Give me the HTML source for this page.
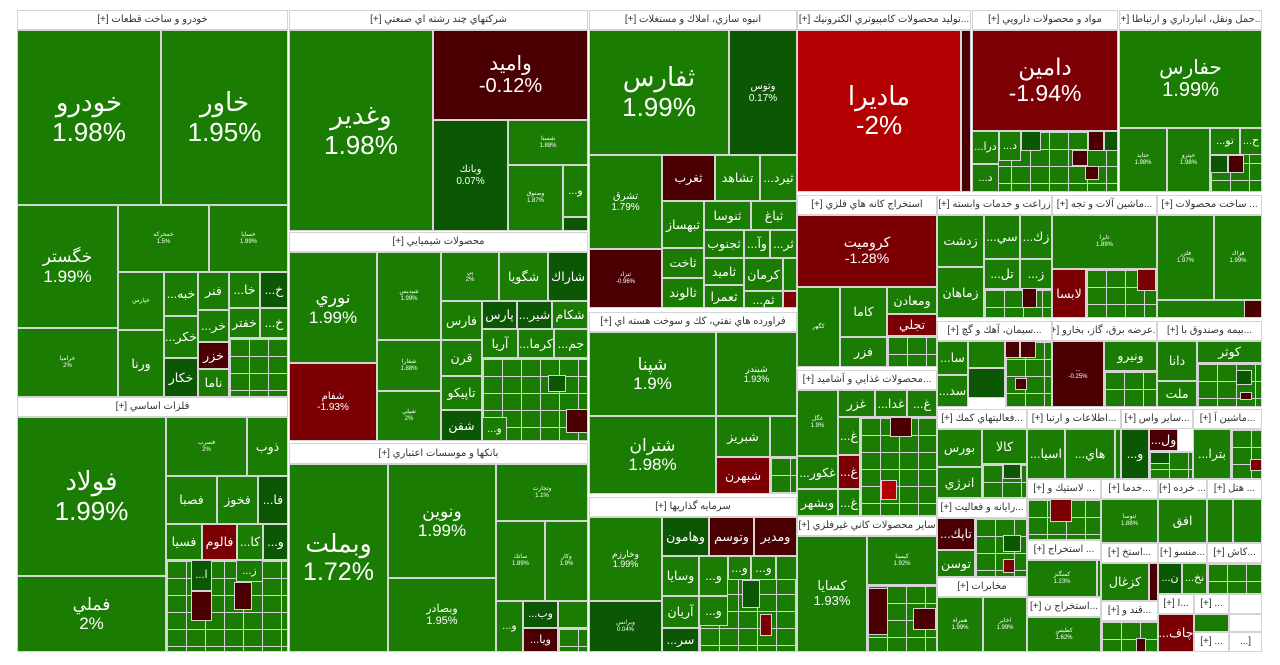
<!DOCTYPE html>
<html><head><meta charset="utf-8"><style>
html,body{margin:0;padding:0;background:#fff;width:1280px;height:665px;overflow:hidden}
.w{position:relative;width:1280px;height:665px}
.c,.h{position:absolute;box-sizing:border-box;border:1px solid #d4d4d4;overflow:hidden;display:flex;flex-direction:column;align-items:center;justify-content:center;text-align:center;line-height:1.12;font-family:"Liberation Sans","DejaVu Sans",sans-serif}
.c{color:#fff;background:#1a7c02;font-size:11px;direction:ltr}
.h{background:#fff;color:#333;font-size:10px;white-space:nowrap;direction:rtl}
.d{background:#0c5703}.r{background:#4a0003}.m{background:#7a0004}.b{background:#b30003}
.gr{background-color:#1a7c02;background-image:linear-gradient(90deg,#d4d4d4 1px,transparent 1px),linear-gradient(#d4d4d4 1px,transparent 1px);background-size:19px 17px}
.B{font-size:26px}.M{font-size:17px}.S{font-size:12.5px}.T{font-size:6px}
</style></head><body><div class="w">
<!-- headers -->
<div class="h" style="left:17px;top:10px;width:271px;height:20px">خودرو و ساخت قطعات [+]</div>
<div class="h" style="left:289px;top:10px;width:299px;height:20px">شركتهاي چند رشته اي صنعتي [+]</div>
<div class="h" style="left:589px;top:10px;width:208px;height:20px">انبوه سازي، املاك و مستغلات [+]</div>
<div class="h" style="left:797px;top:10px;width:174px;height:20px">...توليد محصولات كامپيوتري الكترونيك [+]</div>
<div class="h" style="left:972px;top:10px;width:146px;height:20px">مواد و محصولات دارويي [+]</div>
<div class="h" style="left:1119px;top:10px;width:143px;height:20px">...حمل ونقل، انبارداري و ارتباطا [+]</div>
<div class="h" style="left:17px;top:397px;width:271px;height:20px">فلزات اساسي [+]</div>
<div class="h" style="left:289px;top:232px;width:299px;height:20px">محصولات شيميايي [+]</div>
<div class="h" style="left:289px;top:443px;width:299px;height:21px">بانكها و موسسات اعتباري [+]</div>
<div class="h" style="left:589px;top:312px;width:208px;height:20px">فراورده هاي نفتي، كك و سوخت هسته اي [+]</div>
<div class="h" style="left:589px;top:497px;width:208px;height:20px">سرمايه گذاريها [+]</div>
<div class="h" style="left:797px;top:195px;width:140px;height:20px">استخراج كانه هاي فلزي [+]</div>
<div class="h" style="left:797px;top:370px;width:140px;height:20px">...محصولات غذايي و آشاميد [+]</div>
<div class="h" style="left:797px;top:516px;width:140px;height:20px">ساير محصولات كاني غيرفلزي [+]</div>
<div class="h" style="left:937px;top:195px;width:115px;height:20px">زراعت و خدمات وابسته [+]</div>
<div class="h" style="left:1052px;top:195px;width:105px;height:20px">...ماشين آلات و تجه [+]</div>
<div class="h" style="left:1157px;top:195px;width:105px;height:20px">... ساخت محصولات [+]</div>
<div class="h" style="left:937px;top:321px;width:115px;height:20px">...سيمان، آهك و گچ [+]</div>
<div class="h" style="left:1052px;top:321px;width:105px;height:20px">...عرضه برق، گاز، بخارو [+]</div>
<div class="h" style="left:1157px;top:321px;width:105px;height:20px">...بيمه وصندوق با [+]</div>
<div class="h" style="left:937px;top:409px;width:90px;height:20px">...فعاليتهاي كمك [+]</div>
<div class="h" style="left:1027px;top:409px;width:94px;height:20px">...اطلاعات و ارتبا [+]</div>
<div class="h" style="left:1121px;top:409px;width:72px;height:20px">...ساير واس [+]</div>
<div class="h" style="left:1193px;top:409px;width:69px;height:20px">...ماشين آ [+]</div>
<div class="h" style="left:1027px;top:479px;width:74px;height:20px">... لاستيك و [+]</div>
<div class="h" style="left:1101px;top:479px;width:57px;height:20px">...خدما [+]</div>
<div class="h" style="left:1158px;top:479px;width:49px;height:20px">... خرده [+]</div>
<div class="h" style="left:1207px;top:479px;width:55px;height:20px">... هتل [+]</div>
<div class="h" style="left:937px;top:498px;width:90px;height:20px">...رايانه و فعاليت [+]</div>
<div class="h" style="left:937px;top:577px;width:90px;height:20px">مخابرات [+]</div>
<div class="h" style="left:1027px;top:540px;width:74px;height:20px">... استخراج [+]</div>
<div class="h" style="left:1101px;top:543px;width:57px;height:20px">...استخ [+]</div>
<div class="h" style="left:1158px;top:543px;width:49px;height:20px">...منسو [+]</div>
<div class="h" style="left:1207px;top:543px;width:55px;height:20px">...كاش [+]</div>
<div class="h" style="left:1027px;top:597px;width:74px;height:20px">...استخراج ن [+]</div>
<div class="h" style="left:1101px;top:601px;width:57px;height:20px">...قند و [+]</div>
<div class="h" style="left:1158px;top:594px;width:36px;height:20px">...ا [+]</div>
<div class="h" style="left:1194px;top:594px;width:35px;height:20px">... [+]</div>
<div class="h" style="left:1229px;top:594px;width:33px;height:20px"></div>
<div class="h" style="left:1194px;top:632px;width:35px;height:20px">... [+]</div>
<div class="h" style="left:1229px;top:614px;width:33px;height:18px"></div>
<div class="h" style="left:1229px;top:632px;width:33px;height:20px">[...</div>

<!-- sector 1 -->
<div class="c B" style="left:17px;top:30px;width:144px;height:175px">خودرو<br>1.98%</div>
<div class="c B" style="left:161px;top:30px;width:127px;height:175px">خاور<br>1.95%</div>
<div class="c M" style="left:17px;top:205px;width:101px;height:123px">خگستر<br>1.99%</div>
<div class="c T" style="left:17px;top:328px;width:101px;height:69px">خراميا<br>2%</div>
<div class="c T" style="left:118px;top:205px;width:91px;height:67px">خمحركه<br>1.5%</div>
<div class="c T" style="left:209px;top:205px;width:79px;height:67px">خساپا<br>1.99%</div>
<div class="c T" style="left:118px;top:272px;width:46px;height:58px">خپارس</div>
<div class="c S" style="left:118px;top:330px;width:46px;height:67px">ورنا</div>
<div class="c S" style="left:164px;top:272px;width:34px;height:44px">...خبه</div>
<div class="c S" style="left:198px;top:272px;width:31px;height:38px">فنر</div>
<div class="c S" style="left:229px;top:272px;width:31px;height:36px">...خا</div>
<div class="c S d" style="left:260px;top:272px;width:28px;height:36px">...خ</div>
<div class="c S" style="left:164px;top:316px;width:34px;height:42px">...خكر</div>
<div class="c S d" style="left:164px;top:358px;width:34px;height:39px">خكار</div>
<div class="c S" style="left:198px;top:310px;width:31px;height:32px">...خر</div>
<div class="c S r" style="left:198px;top:342px;width:31px;height:27px">خزر</div>
<div class="c S" style="left:198px;top:369px;width:31px;height:28px">ناما</div>
<div class="c S" style="left:229px;top:308px;width:31px;height:30px">خفتر</div>
<div class="c S" style="left:260px;top:308px;width:28px;height:30px">...خ</div>
<div class="c gr" style="left:229px;top:338px;width:59px;height:59px"></div>
<div class="c B" style="left:17px;top:417px;width:149px;height:159px">فولاد<br>1.99%</div>
<div class="c M" style="left:17px;top:576px;width:149px;height:76px">فملي<br>2%</div>
<div class="c T" style="left:166px;top:417px;width:81px;height:59px">فسرب<br>2%</div>
<div class="c S" style="left:247px;top:417px;width:41px;height:59px">ذوب</div>
<div class="c S" style="left:166px;top:476px;width:51px;height:48px">فصبا</div>
<div class="c S" style="left:217px;top:476px;width:41px;height:48px">فخوز</div>
<div class="c S d" style="left:258px;top:476px;width:30px;height:48px">...فا</div>
<div class="c S" style="left:166px;top:524px;width:36px;height:36px">فسيا</div>
<div class="c S m" style="left:202px;top:524px;width:35px;height:36px">فالوم</div>
<div class="c S" style="left:237px;top:524px;width:26px;height:36px">...كا</div>
<div class="c S d" style="left:263px;top:524px;width:25px;height:36px">...و</div>
<div class="c gr" style="left:166px;top:560px;width:122px;height:92px"></div>
<div class="c d" style="left:191px;top:560px;width:21px;height:31px">...ا</div>
<div class="c r" style="left:191px;top:591px;width:21px;height:30px"></div>
<div class="c r" style="left:234px;top:582px;width:18px;height:28px"></div>
<div class="c" style="left:236px;top:560px;width:27px;height:22px">...ز</div>

<!-- sector 2 -->
<div class="c B" style="left:289px;top:30px;width:144px;height:201px">وغدير<br>1.98%</div>
<div class="c r" style="left:433px;top:30px;width:155px;height:90px;font-size:20px">واميد<br>-0.12%</div>
<div class="c d" style="left:433px;top:120px;width:75px;height:111px;font-size:10px">وبانك<br>0.07%</div>
<div class="c T" style="left:508px;top:120px;width:80px;height:45px">شستا<br>1.88%</div>
<div class="c T" style="left:508px;top:165px;width:55px;height:66px">وصنوق<br>1.87%</div>
<div class="c" style="left:563px;top:165px;width:25px;height:52px">...و</div>
<div class="c d" style="left:563px;top:217px;width:25px;height:14px"></div>
<div class="c M" style="left:289px;top:252px;width:88px;height:111px">نوري<br>1.99%</div>
<div class="c m" style="left:289px;top:363px;width:88px;height:78px;font-size:10px">شفام<br>-1.93%</div>
<div class="c T" style="left:377px;top:252px;width:64px;height:88px">شپديس<br>1.99%</div>
<div class="c T" style="left:377px;top:340px;width:64px;height:51px">شفارا<br>1.88%</div>
<div class="c T" style="left:377px;top:391px;width:64px;height:50px">شپلي<br>2%</div>
<div class="c T" style="left:441px;top:252px;width:58px;height:49px">پي<br>2%</div>
<div class="c S" style="left:499px;top:252px;width:49px;height:49px">شگويا</div>
<div class="c S d" style="left:548px;top:252px;width:40px;height:49px">شاراك</div>
<div class="c S" style="left:441px;top:301px;width:41px;height:39px">فارس</div>
<div class="c S d" style="left:482px;top:301px;width:35px;height:28px">پارس</div>
<div class="c S d" style="left:517px;top:301px;width:35px;height:28px">...شير</div>
<div class="c S" style="left:552px;top:301px;width:36px;height:28px">شكام</div>
<div class="c S" style="left:441px;top:340px;width:41px;height:36px">قرن</div>
<div class="c S" style="left:441px;top:376px;width:41px;height:34px">تاپيكو</div>
<div class="c S d" style="left:441px;top:410px;width:41px;height:31px">شفن</div>
<div class="c S" style="left:482px;top:329px;width:36px;height:29px">آريا</div>
<div class="c S" style="left:518px;top:329px;width:36px;height:29px">...كرما</div>
<div class="c S" style="left:554px;top:329px;width:34px;height:29px">...جم</div>
<div class="c gr" style="left:482px;top:358px;width:106px;height:83px"></div>
<div class="c" style="left:482px;top:417px;width:25px;height:24px">...و</div>
<div class="c d" style="left:548px;top:375px;width:18px;height:17px"></div>
<div class="c r" style="left:566px;top:409px;width:22px;height:24px"></div>
<div class="c B" style="left:289px;top:464px;width:99px;height:188px;font-size:25px">وبملت<br>1.72%</div>
<div class="c M" style="left:388px;top:464px;width:108px;height:114px">ونوين<br>1.99%</div>
<div class="c" style="left:388px;top:578px;width:108px;height:74px">وبصادر<br>1.95%</div>
<div class="c T" style="left:496px;top:464px;width:92px;height:57px">وتجارت<br>1.1%</div>
<div class="c T" style="left:496px;top:521px;width:49px;height:80px">ساتك<br>1.89%</div>
<div class="c T" style="left:545px;top:521px;width:43px;height:80px">وكار<br>1.9%</div>
<div class="c" style="left:496px;top:601px;width:27px;height:51px">...و</div>
<div class="c d" style="left:523px;top:601px;width:35px;height:27px">...وب</div>
<div class="c" style="left:558px;top:601px;width:30px;height:27px"></div>
<div class="c r" style="left:523px;top:628px;width:35px;height:24px">...ويا</div>
<div class="c gr" style="left:558px;top:628px;width:30px;height:24px"></div>

<!-- sector 3 -->
<div class="c B" style="left:589px;top:30px;width:140px;height:125px">ثفارس<br>1.99%</div>
<div class="c d" style="left:729px;top:30px;width:68px;height:125px;font-size:10px">وتوس<br>0.17%</div>
<div class="c" style="left:589px;top:155px;width:73px;height:94px;font-size:10px">تشرق<br>1.79%</div>
<div class="c T r" style="left:589px;top:249px;width:73px;height:59px">ثنراد<br>-0.96%</div>
<div class="c S r" style="left:662px;top:155px;width:53px;height:46px">ثغرب</div>
<div class="c S" style="left:715px;top:155px;width:45px;height:46px">تشاهد</div>
<div class="c S" style="left:760px;top:155px;width:37px;height:46px">...ثيرد</div>
<div class="c S" style="left:662px;top:201px;width:42px;height:47px">ثبهساز</div>
<div class="c S" style="left:704px;top:201px;width:47px;height:29px">ثنوسا</div>
<div class="c S" style="left:751px;top:201px;width:46px;height:29px">ثباغ</div>
<div class="c S" style="left:662px;top:248px;width:42px;height:30px">ثاخت</div>
<div class="c S" style="left:704px;top:230px;width:40px;height:28px">ثجنوب</div>
<div class="c S" style="left:744px;top:230px;width:26px;height:28px">...وآ</div>
<div class="c S" style="left:770px;top:230px;width:27px;height:28px">...ثر</div>
<div class="c S" style="left:704px;top:258px;width:40px;height:27px">ثاميد</div>
<div class="c S" style="left:744px;top:258px;width:39px;height:33px">كرمان</div>
<div class="c" style="left:783px;top:258px;width:14px;height:33px"></div>
<div class="c S" style="left:662px;top:278px;width:42px;height:30px">ثالوند</div>
<div class="c S" style="left:704px;top:285px;width:40px;height:23px">ثعمرا</div>
<div class="c S" style="left:744px;top:291px;width:39px;height:17px">...ثم</div>
<div class="c m" style="left:783px;top:291px;width:14px;height:17px"></div>
<div class="c M" style="left:589px;top:332px;width:127px;height:84px">شپنا<br>1.9%</div>
<div class="c" style="left:716px;top:332px;width:81px;height:84px;font-size:9px">شبندر<br>1.93%</div>
<div class="c M" style="left:589px;top:416px;width:127px;height:78px">شتران<br>1.98%</div>
<div class="c S" style="left:716px;top:416px;width:54px;height:41px">شبريز</div>
<div class="c" style="left:770px;top:416px;width:27px;height:41px"></div>
<div class="c S m" style="left:716px;top:457px;width:54px;height:37px">شبهرن</div>
<div class="c gr" style="left:770px;top:457px;width:27px;height:37px"></div>
<div class="c" style="left:589px;top:517px;width:73px;height:84px;font-size:9px">وخارزم<br>1.99%</div>
<div class="c T d" style="left:589px;top:601px;width:73px;height:51px">وبرانس<br>0.04%</div>
<div class="c S d" style="left:662px;top:517px;width:47px;height:39px">وهامون</div>
<div class="c S r" style="left:709px;top:517px;width:45px;height:39px">وتوسم</div>
<div class="c S r" style="left:754px;top:517px;width:43px;height:39px">ومدير</div>
<div class="c gr" style="left:699px;top:576px;width:98px;height:76px"></div>
<div class="c S" style="left:662px;top:556px;width:37px;height:40px">وسايا</div>
<div class="c S" style="left:699px;top:556px;width:29px;height:40px">...و</div>
<div class="c S" style="left:728px;top:556px;width:23px;height:24px">...و</div>
<div class="c S" style="left:751px;top:556px;width:25px;height:24px">...و</div>
<div class="c" style="left:776px;top:556px;width:21px;height:24px"></div>
<div class="c S" style="left:662px;top:596px;width:37px;height:32px">آريان</div>
<div class="c S d" style="left:662px;top:628px;width:37px;height:24px">...سر</div>
<div class="c S" style="left:699px;top:596px;width:29px;height:30px">...و</div>
<div class="c d" style="left:742px;top:580px;width:18px;height:28px"></div>
<div class="c m" style="left:760px;top:614px;width:12px;height:22px"></div>

<!-- sector 4 -->
<div class="c B b" style="left:797px;top:30px;width:164px;height:162px">ماديرا<br>-2%</div>
<div class="c r" style="left:961px;top:30px;width:10px;height:162px"></div>
<div class="c m" style="left:797px;top:215px;width:140px;height:72px;font-size:14px">كروميت<br>-1.28%</div>
<div class="c T" style="left:797px;top:287px;width:43px;height:80px">كگهر</div>
<div class="c S" style="left:840px;top:287px;width:47px;height:50px">كاما</div>
<div class="c S" style="left:887px;top:287px;width:50px;height:27px">ومعادن</div>
<div class="c S m" style="left:887px;top:314px;width:50px;height:22px">تجلي</div>
<div class="c S" style="left:840px;top:337px;width:47px;height:30px">فزر</div>
<div class="c gr" style="left:887px;top:336px;width:50px;height:31px"></div>
<div class="c T" style="left:797px;top:390px;width:41px;height:66px">غگل<br>1.9%</div>
<div class="c S" style="left:838px;top:390px;width:37px;height:27px">غزر</div>
<div class="c S" style="left:875px;top:390px;width:32px;height:27px">...غدا</div>
<div class="c S" style="left:907px;top:390px;width:30px;height:27px">...غ</div>
<div class="c gr" style="left:860px;top:417px;width:77px;height:99px"></div>
<div class="c S" style="left:838px;top:417px;width:22px;height:38px">...غ</div>
<div class="c r" style="left:890px;top:417px;width:22px;height:20px"></div>
<div class="c b" style="left:881px;top:480px;width:16px;height:20px"></div>
<div class="c S" style="left:797px;top:456px;width:41px;height:33px">...غكور</div>
<div class="c S m" style="left:838px;top:455px;width:22px;height:34px">...غ</div>
<div class="c S" style="left:797px;top:489px;width:41px;height:27px">وبشهر</div>
<div class="c S" style="left:838px;top:489px;width:22px;height:27px">...غ</div>
<div class="c" style="left:797px;top:536px;width:70px;height:116px;font-size:13px">كسايا<br>1.93%</div>
<div class="c T" style="left:867px;top:536px;width:70px;height:49px">كيمينا<br>1.92%</div>
<div class="c gr" style="left:867px;top:585px;width:70px;height:67px"></div>
<div class="c r" style="left:868px;top:588px;width:20px;height:47px"></div>
<div class="c r" style="left:913px;top:608px;width:23px;height:22px"></div>

<!-- sector 5 -->
<div class="c B m" style="left:972px;top:30px;width:146px;height:101px;font-size:23px;background:#7d0006">دامين<br>-1.94%</div>
<div class="c gr" style="left:972px;top:131px;width:146px;height:61px"></div>
<div class="c" style="left:972px;top:131px;width:27px;height:33px">...درا</div>
<div class="c" style="left:972px;top:164px;width:27px;height:28px">...د</div>
<div class="c" style="left:999px;top:131px;width:22px;height:30px">...د</div>
<div class="c d" style="left:1021px;top:131px;width:20px;height:20px"></div>
<div class="c r" style="left:1088px;top:131px;width:16px;height:20px"></div>
<div class="c d" style="left:1104px;top:131px;width:14px;height:20px"></div>
<div class="c r" style="left:1072px;top:150px;width:16px;height:16px"></div>
<div class="c r" style="left:1085px;top:166px;width:14px;height:14px"></div>
<div class="c S" style="left:937px;top:215px;width:47px;height:52px">زدشت</div>
<div class="c S" style="left:984px;top:215px;width:36px;height:44px">...سي</div>
<div class="c S" style="left:1020px;top:215px;width:32px;height:44px">...زك</div>
<div class="c S" style="left:937px;top:267px;width:47px;height:51px">زماهان</div>
<div class="c S" style="left:984px;top:259px;width:36px;height:30px">...تل</div>
<div class="c S" style="left:1020px;top:259px;width:32px;height:30px">...ز</div>
<div class="c gr" style="left:984px;top:289px;width:68px;height:29px"></div>
<div class="c r" style="left:1022px;top:288px;width:15px;height:20px"></div>
<div class="c T" style="left:1052px;top:215px;width:105px;height:54px">تايرا<br>1.89%</div>
<div class="c S m" style="left:1052px;top:269px;width:34px;height:49px">لابسا</div>
<div class="c gr" style="left:1086px;top:269px;width:71px;height:49px"></div>
<div class="c m" style="left:1137px;top:269px;width:19px;height:22px"></div>
<div class="c T" style="left:1157px;top:215px;width:57px;height:85px">فلزر<br>1.97%</div>
<div class="c T" style="left:1214px;top:215px;width:48px;height:85px">فزاك<br>1.99%</div>
<div class="c" style="left:1157px;top:300px;width:105px;height:18px"></div>
<div class="c r" style="left:1244px;top:300px;width:18px;height:18px"></div>
<div class="c" style="left:1119px;top:30px;width:143px;height:98px;font-size:20px">حفارس<br>1.99%</div>
<div class="c T" style="left:1119px;top:128px;width:48px;height:64px">حتايد<br>1.98%</div>
<div class="c T" style="left:1167px;top:128px;width:43px;height:64px">حپترو<br>1.98%</div>
<div class="c gr" style="left:1210px;top:128px;width:52px;height:64px"></div>
<div class="c" style="left:1210px;top:128px;width:30px;height:27px">...تو</div>
<div class="c" style="left:1240px;top:128px;width:22px;height:27px">...ح</div>
<div class="c d" style="left:1210px;top:155px;width:18px;height:18px"></div>
<div class="c r" style="left:1228px;top:155px;width:16px;height:18px"></div>

<!-- row 4 -->
<div class="c S" style="left:937px;top:341px;width:31px;height:34px">...سا</div>
<div class="c" style="left:968px;top:341px;width:37px;height:27px"></div>
<div class="c d" style="left:968px;top:368px;width:37px;height:30px"></div>
<div class="c S" style="left:937px;top:375px;width:31px;height:32px">...سد</div>
<div class="c gr" style="left:1005px;top:341px;width:47px;height:66px"></div>
<div class="c r" style="left:1005px;top:341px;width:15px;height:17px"></div>
<div class="c r" style="left:1020px;top:341px;width:16px;height:17px"></div>
<div class="c r" style="left:1015px;top:378px;width:12px;height:12px"></div>
<div class="c T r" style="left:1052px;top:341px;width:52px;height:66px">...<br>-0.25%</div>
<div class="c S" style="left:1104px;top:341px;width:53px;height:30px">ونيرو</div>
<div class="c gr" style="left:1104px;top:371px;width:53px;height:36px"></div>
<div class="c S" style="left:1157px;top:341px;width:40px;height:40px">دانا</div>
<div class="c S" style="left:1197px;top:341px;width:65px;height:22px">كوثر</div>
<div class="c S" style="left:1157px;top:381px;width:40px;height:26px">ملت</div>
<div class="c gr" style="left:1197px;top:363px;width:65px;height:44px"></div>
<div class="c d" style="left:1236px;top:370px;width:16px;height:15px"></div>
<div class="c r" style="left:1240px;top:392px;width:12px;height:8px"></div>

<!-- row 5 -->
<div class="c S" style="left:937px;top:429px;width:45px;height:38px">بورس</div>
<div class="c S" style="left:982px;top:429px;width:45px;height:35px">كالا</div>
<div class="c S" style="left:937px;top:467px;width:45px;height:31px">انرژي</div>
<div class="c gr" style="left:982px;top:464px;width:45px;height:34px"></div>
<div class="c d" style="left:1003px;top:464px;width:18px;height:15px"></div>
<div class="c S" style="left:1027px;top:429px;width:38px;height:50px">...اسيا</div>
<div class="c S" style="left:1065px;top:429px;width:50px;height:50px">...هاي</div>
<div class="c" style="left:1115px;top:429px;width:6px;height:50px"></div>
<div class="c S d" style="left:1121px;top:429px;width:28px;height:50px">...و</div>
<div class="c S r" style="left:1149px;top:429px;width:29px;height:22px">...ول</div>
<div class="c gr" style="left:1149px;top:451px;width:44px;height:28px"></div>
<div class="c d" style="left:1150px;top:452px;width:20px;height:12px"></div>
<div class="c S" style="left:1193px;top:429px;width:38px;height:50px">...بترا</div>
<div class="c gr" style="left:1231px;top:429px;width:31px;height:50px"></div>
<div class="c m" style="left:1250px;top:459px;width:12px;height:12px"></div>

<!-- row 6 -->
<div class="c gr" style="left:1027px;top:499px;width:74px;height:41px"></div>
<div class="c m" style="left:1050px;top:499px;width:22px;height:23px"></div>
<div class="c T" style="left:1101px;top:499px;width:57px;height:44px">ثنوسا<br>1.88%</div>
<div class="c S" style="left:1158px;top:499px;width:49px;height:44px">افق</div>
<div class="c" style="left:1207px;top:499px;width:26px;height:44px"></div>
<div class="c" style="left:1233px;top:499px;width:29px;height:44px"></div>
<div class="c S r" style="left:937px;top:518px;width:38px;height:32px">...تاپك</div>
<div class="c S" style="left:937px;top:550px;width:38px;height:27px">توسن</div>
<div class="c gr" style="left:975px;top:518px;width:52px;height:59px"></div>
<div class="c d" style="left:1003px;top:535px;width:18px;height:17px"></div>
<div class="c m" style="left:1003px;top:559px;width:12px;height:14px"></div>
<div class="c T" style="left:937px;top:597px;width:46px;height:55px">همراه<br>1.99%</div>
<div class="c T" style="left:983px;top:597px;width:44px;height:55px">اخابر<br>1.99%</div>
<div class="c T" style="left:1027px;top:560px;width:70px;height:37px">كمنگنز<br>1.23%</div>
<div class="c" style="left:1097px;top:560px;width:4px;height:37px"></div>
<div class="c S" style="left:1101px;top:563px;width:48px;height:38px">كزغال</div>
<div class="c r" style="left:1149px;top:563px;width:9px;height:38px"></div>
<div class="c d" style="left:1158px;top:563px;width:24px;height:31px">...ن</div>
<div class="c" style="left:1182px;top:563px;width:25px;height:31px">...نخ</div>
<div class="c gr" style="left:1207px;top:563px;width:55px;height:31px"></div>
<div class="c T" style="left:1027px;top:617px;width:74px;height:35px">كطبس<br>1.62%</div>
<div class="c gr" style="left:1101px;top:621px;width:57px;height:31px"></div>
<div class="c r" style="left:1136px;top:638px;width:10px;height:14px"></div>
<div class="c S m" style="left:1158px;top:614px;width:36px;height:38px">...چاف</div>
<div class="c" style="left:1194px;top:614px;width:35px;height:18px"></div>
</div></body></html>
